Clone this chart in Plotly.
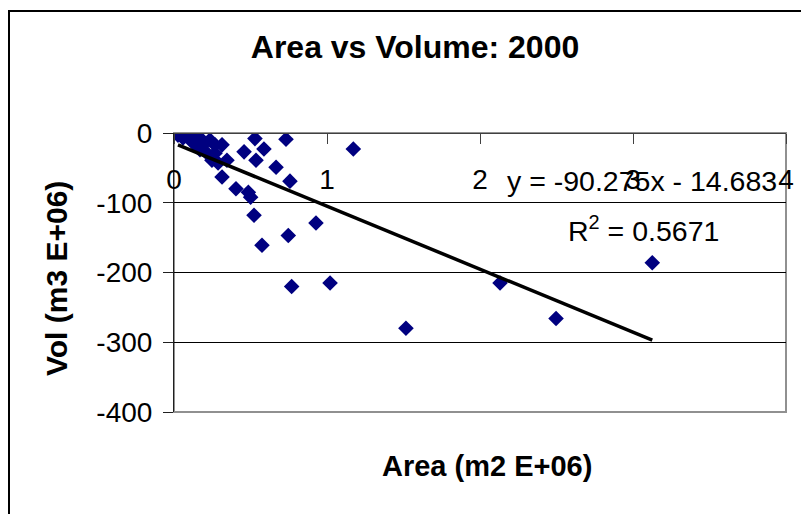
import plotly.graph_objects as go

# ---- data ----
area = [0.026, 0.085, 0.150, 0.183, 0.235, 0.268, 0.314, 0.170, 0.216, 0.268,
        0.248, 0.288, 0.346, 0.124, 0.059, 0.190, 0.314,
        0.529, 0.732, 0.458, 0.588, 0.536, 0.667, 0.758, 0.405, 0.486,
        0.501, 0.523, 0.928, 0.747, 0.575, 1.172, 0.769, 1.020, 1.516,
        2.131, 2.497, 3.126]
volume = [-3, -1, -7, -10, -10, -17, -17, -24, -29, -29,
          -39, -43, -39, -14, -7, -17, -63,
          -8, -9, -27, -23, -39, -49, -69, -80, -85,
          -92, -118, -129, -147, -161, -23, -220, -215, -280,
          -215, -266, -186]

slope = -90.275
intercept = -14.683
r_squared = 0.5671

x_ticks = [0, 1, 2, 3, 4]
y_ticks = [0, -100, -200, -300, -400]

title_text = "Area vs Volume: 2000"
x_title = "Area (m2 E+06)"
y_title = "Vol (m3 E+06)"

FONT = "Liberation Sans, Arial, sans-serif"

# trend line over the data extent
x_min, x_max = min(area), max(area)
trend_x = [x_min, x_max]
trend_y = [slope * v + intercept for v in trend_x]

fig = go.Figure()
fig.add_trace(go.Scatter(
    x=area, y=volume, mode="markers",
    marker=dict(symbol="diamond", size=12, color="#000080", line=dict(width=0)),
    showlegend=False, hoverinfo="skip"))
fig.add_trace(go.Scatter(
    x=trend_x, y=trend_y, mode="lines",
    line=dict(color="black", width=3.5),
    showlegend=False, hoverinfo="skip"))

# page body adds an 8px offset; target pixel positions are in screenshot space
OFF = 8
W, H = 809 - OFF, 514 - OFF
L, R, T, B = 174 - OFF, 786 - OFF, 133 - OFF, 412 - OFF
pw, ph = R - L, B - T

def px(xp):
    return (xp - OFF - L) / pw

def py(yp):
    return (B - (yp - OFF)) / ph

fig.update_layout(
    width=W, height=H,
    margin=dict(l=L, r=W - R, t=T, b=H - B, pad=0),
    paper_bgcolor="white", plot_bgcolor="white",
    font=dict(family=FONT, size=28, color="black"),
    title=dict(text="<b>" + title_text + "</b>", x=(415 - OFF) / W, xanchor="center",
               y=1 - (47 - OFF) / H, yanchor="middle", yref="container",
               font=dict(family=FONT, size=32, color="black")),
    xaxis=dict(range=[0, 4], tickvals=x_ticks, ticktext=[str(v) for v in x_ticks],
               anchor="free", position=1, side="bottom",
               showline=True, linecolor="#404040", linewidth=1,
               ticks="outside", ticklen=10, tickcolor="#404040", tickwidth=1,
               showgrid=False, zeroline=False, ticklabelstandoff=11,
               tickfont=dict(family=FONT, size=28, color="black")),
    yaxis=dict(range=[-400, 0], tickvals=y_ticks, ticktext=[str(v) for v in y_ticks],
               showline=True, linecolor="#202020", linewidth=1,
               ticks="outside", ticklen=10, tickcolor="#202020", tickwidth=1,
               showgrid=True, gridcolor="black", gridwidth=1, zeroline=False,
               ticklabelstandoff=5,
               tickfont=dict(family=FONT, size=28, color="black")),
    shapes=[
        dict(type="rect", xref="paper", yref="paper", x0=0, x1=1, y0=0, y1=1,
             line=dict(color="#909090", width=2), layer="below"),
        dict(type="rect", xref="paper", yref="paper",
             x0=px(9), x1=px(830), y0=py(540), y1=py(11),
             line=dict(color="black", width=2), layer="below"),
    ],
    annotations=[
        dict(text=f"y = {slope}x - {abs(intercept)}", xref="paper", yref="paper",
             x=px(642), y=py(181), xanchor="center", yanchor="middle",
             showarrow=False, font=dict(family=FONT, size=28.5, color="black")),
        dict(text=f"R<sup>2</sup> = {r_squared}", xref="paper", yref="paper",
             x=px(643), y=py(229), xanchor="center", yanchor="middle",
             showarrow=False, font=dict(family=FONT, size=28.5, color="black")),
        dict(text="<b>" + x_title + "</b>", xref="paper", yref="paper",
             x=px(487), y=py(466), xanchor="center", yanchor="middle",
             showarrow=False, font=dict(family=FONT, size=29, color="black")),
        dict(text="<b>" + y_title + "</b>", xref="paper", yref="paper",
             x=px(56), y=py(279), xanchor="center", yanchor="middle", textangle=-90,
             showarrow=False, font=dict(family=FONT, size=30, color="black")),
    ],
)

fig.write_html("out.html")
